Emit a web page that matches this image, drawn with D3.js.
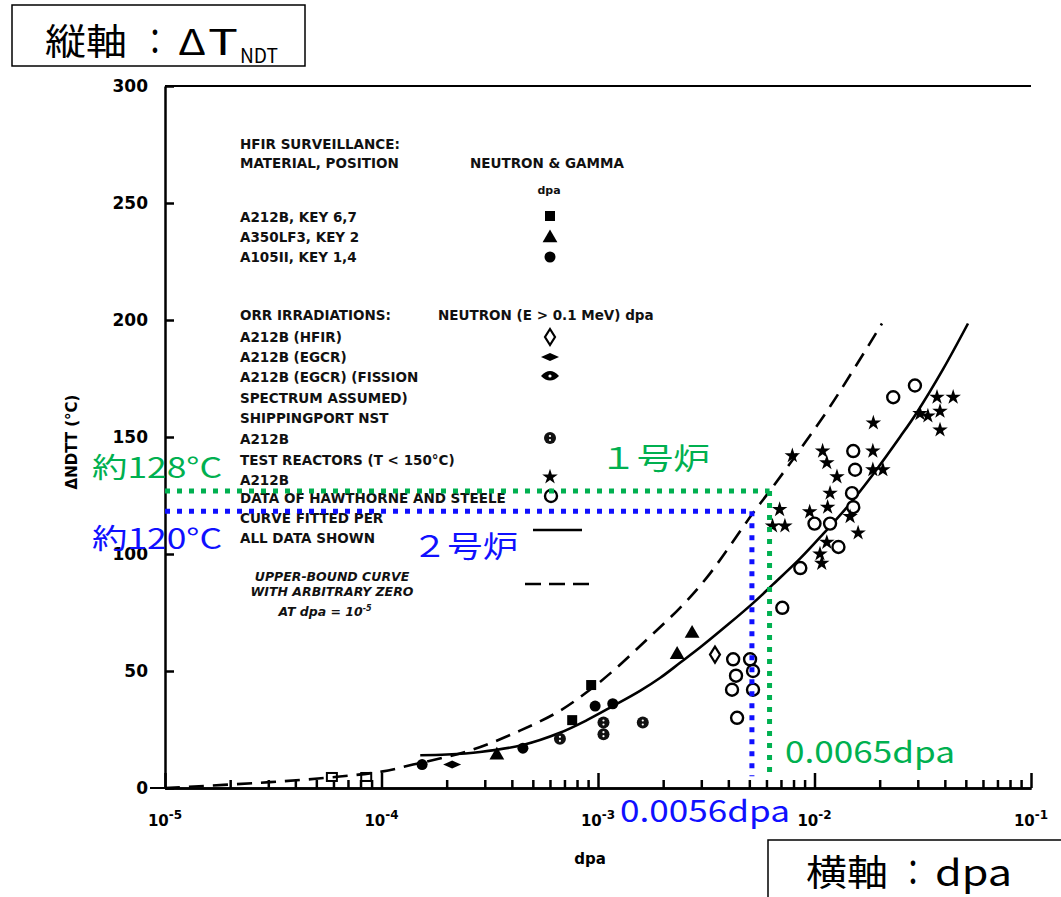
<!DOCTYPE html>
<html>
<head>
<meta charset="utf-8">
<script src="https://cdn.jsdelivr.net/npm/d3@7"></script>
<style>
  body { margin: 0; background: #fff; }
  .lg { font-family: "DejaVu Sans", sans-serif; font-weight: bold; font-size: 13.5px; fill: #111; }
  .ax { font-family: "DejaVu Sans", sans-serif; font-weight: bold; fill: #000; }
  .jp { font-family: "Noto Sans CJK JP", sans-serif; }
</style>
</head>
<body>
<div id="chart"></div>
<script>
// values: [dpa, deltaT]
var fitCurve = [[1.51e-4,14],[2.006e-4,14.3],[2.85e-4,15.4],[4.5e-4,18.4],[6.67e-4,23.6],[8.89e-4,29],
  [1.172e-3,35],[1.563e-3,41.5],[1.932e-3,47],[2.393e-3,53.5],[2.958e-3,60],[3.945e-3,69.5],
  [5.2e-3,79],[6.43e-3,87],[8.57e-3,98],[1.094e-2,108.5],[1.459e-2,121.5],[1.862e-2,134],
  [2.483e-2,150],[2.972e-2,160.5],[3.926e-2,179],[5.117e-2,198.5]];
var boundCurve = [[1e-5,0],[3.05e-5,2.5],[5.78e-5,4.5],[1e-4,7],[1.399e-4,10],[2.56e-4,16],
  [4.36e-4,24.5],[6.67e-4,33],[9.18e-4,42],[1.172e-3,50],[1.684e-3,63.5],[2.393e-3,77],
  [3.187e-3,90],[5.2e-3,117.5],[6.22e-3,127],[7.96e-3,140.5],[1.18e-2,163],[2.05e-2,198.5]];

var hfirSquare = [[9.3e-4,44],[7.6e-4,29]];
var hfirTriangle = [[2.72e-3,66],[2.32e-3,57],[3.41e-4,14]];
var hfirCircle = [[1.54e-4,10],[4.5e-4,17],[9.7e-4,35],[1.17e-3,36]];
var orrHfir = [[3.47e-3,57]];
var orrEgcr = [[2.12e-4,10]];
var shippingport = [[6.67e-4,21],[1.06e-3,28],[1.06e-3,23],[1.61e-3,28]];
var baseMarks = [[5.9e-5,3],[8.5e-5,3]];
var testReactor = [[0.0187,156],[0.0186,144],[0.0109,144],[0.0114,139],[0.0127,133],[0.0118,126],
  [0.0115,120],[0.0095,118],[0.0146,116],[0.0114,105],[0.0106,100],[0.0108,96],[0.0069,119],
  [0.0064,112],[0.0073,112],[0.0079,142],[0.0207,136],[0.0186,136],[0.0437,167],[0.0368,167],
  [0.0380,161],[0.0307,160],[0.0334,159],[0.0380,153],[0.0159,109]];
var hawthorne = [[0.0151,144],[0.0154,136],[0.0149,126],[0.0151,120],[0.0100,113],[0.0118,113],
  [0.0129,103],[0.0086,94],[0.0291,172],[0.0231,167],[0.0071,77],[0.00421,55],[0.00504,55],
  [0.00434,48],[0.0052,50],[0.00416,42],[0.0052,42],[0.00439,30]];

var yTicks = [0,50,100,150,200,250,300];
var xExp = [-5,-4,-3,-2,-1];

// annotation guides (where the marker lines sit in the picture)
var guideDpa = [0.0062, 0.00514];
var guideDT = [126.9, 118.3];
var guideColor = ["#00b050", "#1010ff"];

var svgWidth = 1061, svgHeight = 897;
var svg = d3.select("#chart").append("svg")
  .attr("width", svgWidth).attr("height", svgHeight);

var x = d3.scaleLog().domain([1e-5, 1e-1]).range([165, 1031]);
var y = d3.scaleLinear().domain([0, 300]).range([788, 86]);

// minor ticks on x
var minors = [];
xExp.slice(0, 4).forEach(function(e) {
  for (var k = 2; k <= 9; k++) minors.push(k * Math.pow(10, e));
});

svg.append("g")
  .attr("transform", "translate(0,788)")
  .call(d3.axisBottom(x).tickValues(minors).tickSize(-8).tickSizeOuter(0).tickFormat(""))
  .call(function(g) { g.selectAll("line,path").attr("stroke", "#000").attr("stroke-width", 2.5); });

svg.append("g")
  .attr("transform", "translate(0,788)")
  .call(d3.axisBottom(x).tickValues(xExp.map(function(e){ return Math.pow(10, e); }))
    .tickSize(-15).tickSizeOuter(0).tickFormat(""))
  .call(function(g) { g.selectAll("line,path").attr("stroke", "#000").attr("stroke-width", 2.5); });

// x tick labels 10^n
xExp.forEach(function(e) {
  var t = svg.append("text").attr("class", "ax")
    .attr("x", x(Math.pow(10, e))).attr("y", 826)
    .attr("text-anchor", "middle").style("font-size", "15px");
  t.append("tspan").text("10");
  t.append("tspan").attr("dy", -7).style("font-size", "12px").text(String(e));
});

// y axis
svg.append("g")
  .attr("transform", "translate(165,0)")
  .call(d3.axisLeft(y).tickValues(yTicks).tickSize(-9).tickPadding(17).tickSizeOuter(0))
  .call(function(g) {
    g.selectAll("line,path").attr("stroke", "#000").attr("stroke-width", 2.5);
    g.selectAll("text").attr("class", "ax").style("font-size", "17px");
  });
svg.append("line").attr("x1", 150).attr("x2", 165).attr("y1", y(0)).attr("y2", y(0))
  .attr("stroke", "#000").attr("stroke-width", 2);

// top frame line
svg.append("line").attr("x1", 165).attr("x2", 1031).attr("y1", y(300)).attr("y2", y(300))
  .attr("stroke", "#000").attr("stroke-width", 2);

// axis titles
svg.append("text").attr("class", "ax").attr("x", 590).attr("y", 864).attr("text-anchor", "middle")
  .style("font-size", "15px").text("dpa");
svg.append("text").attr("class", "ax").attr("transform", "translate(77,442) rotate(-90)").attr("text-anchor", "middle")
  .style("font-size", "15px").text("ΔNDTT (°C)");

// curves
var line = d3.line()
  .x(function(d) { return x(d[0]); })
  .y(function(d) { return y(d[1]); })
  .curve(d3.curveCatmullRom);

svg.append("path").datum(fitCurve).attr("d", line)
  .attr("fill", "none").attr("stroke", "#000").attr("stroke-width", 2.6);
svg.append("path").datum(boundCurve).attr("d", line)
  .attr("fill", "none").attr("stroke", "#000").attr("stroke-width", 2.6)
  .attr("stroke-dasharray", "15,9");

// markers
function drawMarker(g, kind) {
  if (kind === "square") {
    g.append("rect").attr("x", -5).attr("y", -5).attr("width", 10).attr("height", 10).attr("fill", "#000");
  } else if (kind === "triangle") {
    g.append("path").attr("d", d3.symbol().type(d3.symbolTriangle).size(95)()).attr("fill", "#000");
  } else if (kind === "dot") {
    g.append("circle").attr("r", 5.5).attr("fill", "#000");
  } else if (kind === "diamond") {
    g.append("path").attr("d", "M0,-8 L5,0 L0,8 L-5,0 Z").attr("fill", "#fff")
      .attr("stroke", "#000").attr("stroke-width", 2.2);
  } else if (kind === "egcr") {
    g.append("path").attr("d", "M-9,0 L0,-4 L9,0 L0,4 Z").attr("fill", "#000");
  } else if (kind === "fission") {
    g.append("path").attr("d", "M-9,0 Q0,-10 9,0 Q0,9 -9,0 Z").attr("fill", "#000");
    g.append("circle").attr("r", 1.6).attr("fill", "#fff");
  } else if (kind === "ship") {
    g.append("circle").attr("r", 6).attr("fill", "#111");
    g.append("circle").attr("cy", -2).attr("r", 1.1).attr("fill", "#fff");
    g.append("circle").attr("cy", 2).attr("r", 1.1).attr("fill", "#fff");
  } else if (kind === "star") {
    g.append("path").attr("d", d3.symbol().type(d3.symbolStar).size(75)()).attr("fill", "#000");
  } else if (kind === "ring") {
    g.append("circle").attr("r", 6).attr("fill", "#fff").attr("stroke", "#000").attr("stroke-width", 2.4);
  } else if (kind === "box") {
    g.append("rect").attr("x", -5).attr("y", -8).attr("width", 10).attr("height", 8)
      .attr("fill", "none").attr("stroke", "#000").attr("stroke-width", 2);
  }
}

function plotSeries(data, kind) {
  svg.append("g").selectAll("g").data(data).enter().append("g")
    .attr("transform", function(d) { return "translate(" + x(d[0]) + "," + y(d[1]) + ")"; })
    .each(function() { drawMarker(d3.select(this), kind); });
}

plotSeries(baseMarks, "box");
plotSeries(hawthorne, "ring");
plotSeries(testReactor, "star");
plotSeries(hfirSquare, "square");
plotSeries(hfirTriangle, "triangle");
plotSeries(hfirCircle, "dot");
plotSeries(orrHfir, "diamond");
plotSeries(orrEgcr, "egcr");
plotSeries(shippingport, "ship");

// legend block
var lg = svg.append("g");
function lgText(tx, ty, s) {
  return lg.append("text").attr("class", "lg").attr("x", tx).attr("y", ty).text(s);
}
lgText(240, 149, "HFIR SURVEILLANCE:");
lgText(240, 168, "MATERIAL, POSITION");
lgText(470, 168, "NEUTRON & GAMMA");
lgText(549, 194, "dpa").attr("text-anchor", "middle").style("font-size", "11px");
lgText(240, 222, "A212B, KEY 6,7");
lgText(240, 242, "A350LF3, KEY 2");
lgText(240, 262, "A105II, KEY 1,4");
lgText(240, 320, "ORR IRRADIATIONS:");
lgText(438, 320, "NEUTRON (E > 0.1 MeV) dpa");
lgText(240, 342, "A212B    (HFIR)");
lgText(240, 362, "A212B    (EGCR)");
lgText(240, 382, "A212B (EGCR) (FISSION");
lgText(240, 403, "SPECTRUM ASSUMED)");
lgText(240, 423, "SHIPPINGPORT NST");
lgText(240, 444, "A212B");
lgText(240, 465, "TEST REACTORS (T < 150°C)");
lgText(240, 485, "A212B");
lgText(240, 503, "DATA OF HAWTHORNE AND STEELE");
lgText(240, 523, "CURVE FITTED PER");
lgText(240, 543, "ALL DATA SHOWN");
lgText(332, 581, "UPPER-BOUND CURVE").attr("text-anchor", "middle").style("font-style", "italic").style("font-size", "12.5px");
lgText(332, 596, "WITH ARBITRARY ZERO").attr("text-anchor", "middle").style("font-style", "italic").style("font-size", "12.5px");
var atT = lgText(325, 616, "AT dpa = 10").attr("text-anchor", "middle").style("font-style", "italic").style("font-size", "12.5px");
atT.append("tspan").attr("dy", -5).style("font-size", "8px").text("-5");

var lgMarks = [["square",550,216],["triangle",550,238],["dot",550,257],["diamond",550,337],
  ["egcr",550,357],["fission",550,376],["ship",550,438],["star",550,477],["ring",551,496]];
lgMarks.forEach(function(m) {
  drawMarker(lg.append("g").attr("transform", "translate(" + m[1] + "," + m[2] + ")"), m[0]);
});
lg.append("line").attr("x1", 533).attr("x2", 582).attr("y1", 530).attr("y2", 530)
  .attr("stroke", "#000").attr("stroke-width", 2.6);
lg.append("line").attr("x1", 525).attr("x2", 591).attr("y1", 584).attr("y2", 584)
  .attr("stroke", "#000").attr("stroke-width", 2.6).attr("stroke-dasharray", "16,8");

// annotation guides
guideDpa.forEach(function(dv, i) {
  var g = svg.append("g").attr("stroke", guideColor[i]).attr("stroke-width", 5)
    .attr("stroke-dasharray", "5,7").attr("fill", "none");
  g.append("line").attr("x1", x(1e-5)).attr("x2", x(dv)).attr("y1", y(guideDT[i])).attr("y2", y(guideDT[i]));
  g.append("line").attr("x1", x(dv)).attr("x2", x(dv)).attr("y1", y(guideDT[i])).attr("y2", y(5));
});

function jpText(tx, ty, s, col, size, len) {
  var t = svg.append("text").attr("class", "jp").attr("x", tx).attr("y", ty)
    .attr("fill", col).style("font-size", size + "px").text(s);
  if (len) t.attr("textLength", len).attr("lengthAdjust", "spacingAndGlyphs");
  return t;
}
jpText(92, 478, "約128°C", guideColor[0], 28, 130);
jpText(92, 549, "約120°C", guideColor[1], 28, 130);
jpText(600, 469, "１号炉", guideColor[0], 30, 110);
jpText(412, 557, "２号炉", guideColor[1], 30, 106);
jpText(785, 763, "0.0065dpa", guideColor[0], 30, 170);
jpText(620, 822, "0.0056dpa", guideColor[1], 30, 170);

// axis caption boxes
svg.append("rect").attr("x", 12).attr("y", 5).attr("width", 293).attr("height", 61)
  .attr("fill", "#fff").attr("stroke", "#000").attr("stroke-width", 1.5);
jpText(45, 55, "縦軸", "#000", 36, 82);
jpText(140, 55, "：", "#000", 36, 30);
jpText(178, 55, "Δ", "#000", 36, 28);
jpText(208, 55, "T", "#000", 36, 30);
jpText(240, 63, "NDT", "#000", 20, 38);

svg.append("rect").attr("x", 768).attr("y", 840).attr("width", 300).attr("height", 62)
  .attr("fill", "#fff").attr("stroke", "#000").attr("stroke-width", 1.5);
jpText(806, 886, "横軸", "#000", 36, 82);
jpText(898, 886, "：", "#000", 36, 30);
jpText(935, 886, "dpa", "#000", 36, 77);
</script>
</body>
</html>
